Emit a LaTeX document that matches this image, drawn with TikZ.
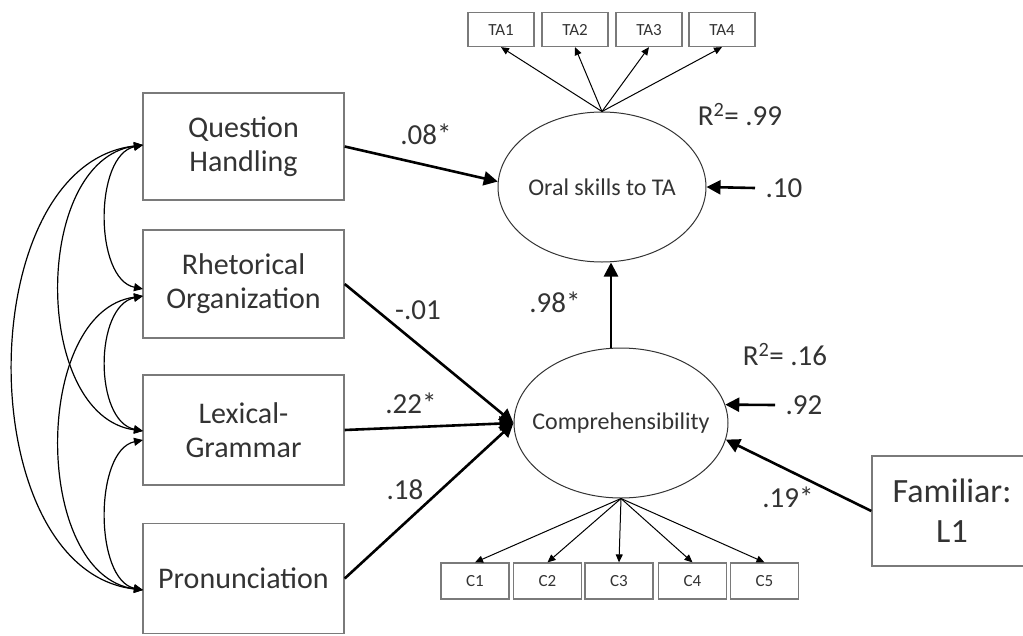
\documentclass[tikz,border=0pt]{standalone}
\usepackage{fontspec}
\setmainfont{Carlito}
\usetikzlibrary{shapes.geometric,arrows.meta}
\definecolor{txt}{HTML}{333333}
\definecolor{frame}{HTML}{7A7A7A}
\begin{document}
\begin{tikzpicture}[x=1pt,y=-1pt,
  font=\fontsize{30}{34}\selectfont,
  every node/.style={text=txt},
  obsbox/.style={draw=frame, line width=1.4pt, rectangle, minimum width=201pt, align=center, inner sep=0pt},
  indbox/.style={draw=frame, line width=1.2pt, rectangle, minimum width=66pt, minimum height=34pt, inner sep=0pt, text height=11pt, text depth=0pt, font=\fontsize{17}{20}\selectfont},
  latent/.style={draw=txt, line width=1pt, ellipse, inner sep=0pt, font=\fontsize{24}{28}\selectfont},
  regarrow/.style={line width=2.6pt, -{Triangle[length=14pt,width=14pt]}},
  loadarrow/.style={line width=1pt, -{Triangle[length=8pt,width=7pt]}},
  corrarrow/.style={line width=1.2pt, {Triangle[length=9pt,width=8pt]}-{Triangle[length=9pt,width=8pt]}},
  coef/.style={font=\fontsize{29}{32}\selectfont, inner sep=0pt}
]
\useasboundingbox (0,0) rectangle (1023,635);
\clip (0,0) rectangle (1023,635);

% observed predictors
\node[obsbox, minimum height=107pt] (qh) at (243.5,146.5) {Question\\Handling};
\node[obsbox, minimum height=108pt] (rh) at (243.5,284) {Rhetorical\\Organization};
\node[obsbox, minimum height=110pt] (lg) at (243.5,430) {Lexical-\\Grammar};
\node[obsbox, minimum height=110pt] (pr) at (243.5,578.5) {Pronunciation};
\node[obsbox, minimum width=160pt, minimum height=110pt, font=\fontsize{34}{40}\selectfont] (fam) at (952,511) {Familiar:\\L1};

% latent variables (label kept zero-width so the outline keeps its size)
\node[latent, minimum width=208pt, minimum height=150pt] (oral) at (602,187) {\makebox[0pt]{Oral skills to TA}};
\node[latent, minimum width=214pt, minimum height=150pt] (comp) at (621,423) {\makebox[0pt]{Comprehensibility}};

% indicators
\node[indbox] (ta1) at (501,29.5) {TA1};
\node[indbox] (ta2) at (575,29.5) {TA2};
\node[indbox] (ta3) at (649,29.5) {TA3};
\node[indbox] (ta4) at (722,29.5) {TA4};
\node[indbox, minimum width=68pt, minimum height=36pt] (c1) at (475,581) {C1};
\node[indbox, minimum width=68pt, minimum height=36pt] (c2) at (547.5,581) {C2};
\node[indbox, minimum width=68pt, minimum height=36pt] (c3) at (619,581) {C3};
\node[indbox, minimum width=68pt, minimum height=36pt] (c4) at (692.5,581) {C4};
\node[indbox, minimum width=68pt, minimum height=36pt] (c5) at (764.5,581) {C5};

\foreach \t in {ta1,ta2,ta3,ta4} \draw[loadarrow] (oral.north) -- (\t.south);
\foreach \c in {c1,c2,c3,c4,c5} \draw[loadarrow] (comp.south) -- (\c.north);

% structural paths
\draw[regarrow] (qh.east) -- (oral.177);
\draw[regarrow] (rh.east) -- (comp.west);
\draw[regarrow] (lg.east) -- (comp.west);
\draw[regarrow] (pr.east) -- (comp.west);
\draw[regarrow] ([xshift=-10pt]comp.north) -- ([xshift=9pt]oral.south);
\draw[regarrow] (fam.west) -- (comp.-9);

% disturbances
\coordinate (d1) at (755,188);
\coordinate (d2) at (775,405);
\draw[regarrow] (d1) -- (oral.east);
\draw[regarrow] (d2) -- (comp.10);

% correlations among predictors
\coordinate (qa) at (143,145);
\coordinate (ra) at (143,289);
\coordinate (rb) at (143,296);
\coordinate (la) at (143,431);
\coordinate (lb) at (143,440);
\coordinate (pa) at (143,590);
\draw[corrarrow] (qa) .. controls +(-49,10) and +(-49,-10) .. (ra);
\draw[corrarrow] (rb) .. controls +(-49,10) and +(-49,-10) .. (la);
\draw[corrarrow] (lb) .. controls +(-49,10) and +(-49,-10) .. (pa);
\draw[corrarrow] (qa) .. controls +(-111,15) and +(-111,-15) .. (la);
\draw[corrarrow] (rb) .. controls +(-111,15) and +(-111,-15) .. (pa);
\draw[corrarrow] (qa) .. controls +(-173,20) and +(-173,-20) .. (pa);

% coefficients
\node[coef] (k1) at (426,134) {.08*};
\node[coef] (k2) at (418,310) {-.01};
\node[coef] (k3) at (411,403) {.22*};
\node[coef] (k4) at (405,490) {.18};
\node[coef] (k5) at (555,302) {.98*};
\node[coef] (k6) at (740,115) {R\textsuperscript{2}= .99};
\node[coef] (k7) at (784,188) {.10};
\node[coef] (k8) at (785,355) {R\textsuperscript{2}= .16};
\node[coef] (k9) at (804,405) {.92};
\node[coef] (k10) at (788,497) {.19*};
\end{tikzpicture}
\end{document}
